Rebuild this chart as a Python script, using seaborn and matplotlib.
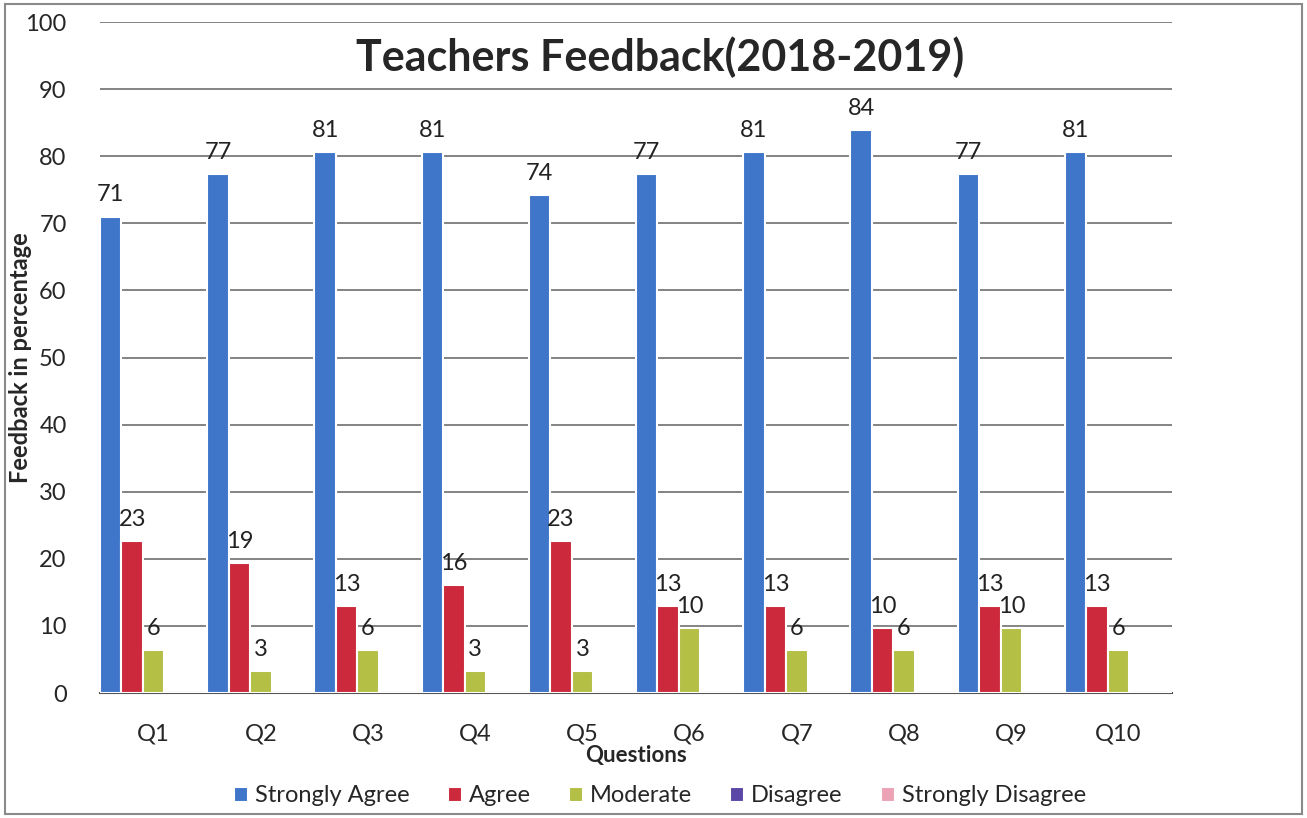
import pandas as pd
import matplotlib.pyplot as plt
import matplotlib.patches as mpatches
import seaborn as sns

questions = ['Q1', 'Q2', 'Q3', 'Q4', 'Q5', 'Q6', 'Q7', 'Q8', 'Q9', 'Q10']
responses = ['Strongly Agree', 'Agree', 'Moderate', 'Disagree', 'Strongly Disagree']

strongly_agree = [71.0, 77.4, 80.6, 80.6, 74.2, 77.4, 80.6, 83.9, 77.4, 80.6]
agree = [22.6, 19.4, 12.9, 16.1, 22.6, 12.9, 12.9, 9.7, 12.9, 12.9]
moderate = [6.45, 3.23, 6.45, 3.23, 3.23, 9.68, 6.45, 6.45, 9.68, 6.45]
disagree = [0, 0, 0, 0, 0, 0, 0, 0, 0, 0]
strongly_disagree = [0, 0, 0, 0, 0, 0, 0, 0, 0, 0]

colors = ['#3F76C9', '#CC2A3C', '#B3BF45', '#5B48A6', '#EBA3B5']

# long format for seaborn
series = [strongly_agree, agree, moderate, disagree, strongly_disagree]
rows = []
for resp, vals in zip(responses, series):
    for q, v in zip(questions, vals):
        rows.append({'Question': q, 'Response': resp, 'Value': v})
df = pd.DataFrame(rows)

sns.set_style('white')
plt.rcParams['font.family'] = ['Lato', 'DejaVu Sans']

fig = plt.figure(figsize=(13.07, 8.18), dpi=100)
ax = fig.add_axes([0.0765, 0.1528, 0.8203, 0.8203])

sns.barplot(data=df, x='Question', y='Value', hue='Response', order=questions,
            hue_order=responses, palette=colors, saturation=1, width=1.0, gap=0,
            edgecolor='white', linewidth=1.5, ax=ax, zorder=3)

# data labels for the three non-zero series
for cont in ax.containers[:3]:
    ax.bar_label(cont, fmt='%.0f', padding=8, fontsize=17, color='#222222')

ax.set_ylim(0, 100)
ax.set_xlim(-0.5, 9.5)
ax.set_yticks(range(0, 101, 10))
ax.grid(axis='y', color='#7a7a7a', linewidth=1.3, zorder=0)
ax.set_axisbelow(True)
for s in ['left', 'right', 'top']:
    ax.spines[s].set_visible(False)
ax.spines['bottom'].set_color('#555555')
ax.spines['bottom'].set_linewidth(1.5)
ax.tick_params(axis='y', length=0, pad=24, labelsize=17)
ax.tick_params(axis='x', length=0, pad=22, labelsize=17)

ax.set_ylabel('Feedback in percentage', fontsize=17, fontweight='bold')
ax.yaxis.set_label_coords(-0.063, 0.5)
ax.set_xlabel('Questions', fontsize=16, fontweight='bold', labelpad=0)

ax.text(0.522, 0.947, 'Teachers Feedback(2018-2019)', transform=ax.transAxes,
        ha='center', va='center', fontsize=31, fontweight='bold')

handles, labels = ax.get_legend_handles_labels()
ax.get_legend().remove()
fig.legend(handles, labels, loc='center', bbox_to_anchor=(0.505, 0.027), ncol=5,
           frameon=False, fontsize=17, handlelength=0.6, handleheight=0.6,
           handletextpad=0.3, columnspacing=1.6)

fig.patches.append(mpatches.Rectangle((0.004, 0.005), 0.992, 0.99, transform=fig.transFigure,
                                      fill=False, edgecolor='#8a8a8a', linewidth=1.5))

plt.savefig('out.png', dpi=100)
